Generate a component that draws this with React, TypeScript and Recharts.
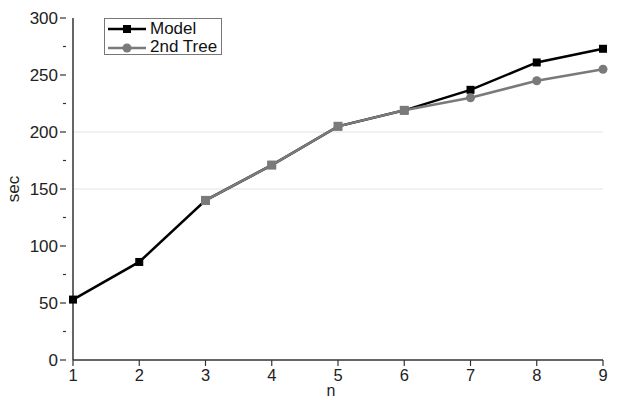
import {
  LineChart,
  Line,
  XAxis,
  YAxis,
  ReferenceLine,
  Label,
} from "recharts";

const nValues = [1, 2, 3, 4, 5, 6, 7, 8, 9];
const modelSec = [53, 86, 140, 171, 205, 219, 237, 261, 273];
const treeSec: (number | null)[] = [null, null, 140, 171, 205, 219, 230, 245, 255];
const yTicks = [0, 25, 50, 75, 100, 125, 150, 175, 200, 225, 250, 275, 300];
const gridLevels = [150, 200];

const data = nValues.map((n, i) => ({
  n,
  model: modelSec[i],
  tree: treeSec[i],
}));

const FONT = "'Liberation Sans', Arial, sans-serif";
const AXIS = "#333";

function YTick(props: any) {
  const { x, y, payload } = props;
  const major = payload.value % 50 === 0;
  return (
    <g>
      <line x1={x + 1} x2={x + 1 - (major ? 6 : 3)} y1={y} y2={y} stroke={AXIS} strokeWidth={1.2} />
      {major && (
        <text x={x - 7} y={y} dy={6} textAnchor="end" fill="#222" fontSize={17} fontFamily={FONT}>
          {payload.value}
        </text>
      )}
    </g>
  );
}

function XTick(props: any) {
  const { x, y, payload } = props;
  return (
    <text x={x} y={y} dy={13} textAnchor="middle" fill="#222" fontSize={16.5} fontFamily={FONT}>
      {payload.value}
    </text>
  );
}

function ModelDot(props: any) {
  const { cx, cy } = props;
  if (cx == null || cy == null) return null;
  return <rect x={cx - 4} y={cy - 4} width={8} height={8} fill="#000" />;
}

function TreeDot(props: any) {
  const { cx, cy, payload } = props;
  if (cx == null || cy == null || payload.tree == null) return null;
  if (payload.tree === payload.model) {
    return <rect x={cx - 4.5} y={cy - 4.5} width={9} height={9} fill="#7a7a7a" />;
  }
  return <circle cx={cx} cy={cy} r={4.5} fill="#7a7a7a" />;
}

export default function App() {
  return (
    <div style={{ position: "absolute", left: 0, top: 0, width: 619, height: 400, background: "#fff" }}>
      <LineChart
        width={619}
        height={400}
        data={data}
        margin={{ top: 18, right: 16, left: 0, bottom: 0 }}
      >
        {gridLevels.map((g) => (
          <ReferenceLine key={g} y={g} stroke="#e2e2e2" strokeWidth={1} />
        ))}
        <XAxis
          dataKey="n"
          type="number"
          domain={[1, 9]}
          ticks={nValues}
          height={40}
          axisLine={{ stroke: AXIS, strokeWidth: 1.5 }}
          tickLine={{ stroke: AXIS, strokeWidth: 1.2 }}
          tickSize={6}
          tick={<XTick />}
        >
          <Label value="n" position="insideBottom" offset={4} dx={-7} fill="#222" fontSize={16} fontFamily={FONT} />
        </XAxis>
        <YAxis
          type="number"
          domain={[0, 300]}
          ticks={yTicks}
          width={73}
          interval={0}
          axisLine={{ stroke: AXIS, strokeWidth: 1.5 }}
          tickLine={false}
          tick={<YTick />}
        >
          <Label
            value="sec"
            angle={-90}
            position="insideLeft"
            offset={13}
            style={{ textAnchor: "middle" }}
            fill="#222"
            fontSize={17}
            fontFamily={FONT}
          />
        </YAxis>
        <Line
          dataKey="model"
          stroke="#000"
          strokeWidth={2.5}
          dot={<ModelDot />}
          isAnimationActive={false}
        />
        <Line
          dataKey="tree"
          stroke="#7a7a7a"
          strokeWidth={2.5}
          dot={<TreeDot />}
          isAnimationActive={false}
        />
      </LineChart>
      <div
        style={{
          position: "absolute",
          left: 104,
          top: 18,
          width: 118,
          height: 37,
          border: "1px solid #777",
          boxSizing: "border-box",
          fontFamily: FONT,
          fontSize: 17,
          color: "#111",
        }}
      >
        <svg width={40} height={36} style={{ position: "absolute", left: 2, top: 0 }}>
          <line x1={1} x2={39} y1={10} y2={10} stroke="#000" strokeWidth={2.5} />
          <rect x={16} y={6} width={8} height={8} fill="#000" />
          <line x1={1} x2={39} y1={29} y2={29} stroke="#7a7a7a" strokeWidth={2.5} />
          <circle cx={20} cy={29} r={4.5} fill="#7a7a7a" />
        </svg>
        <div style={{ position: "absolute", left: 45, top: 0, lineHeight: "19px" }}>Model</div>
        <div style={{ position: "absolute", left: 45, top: 18, lineHeight: "19px" }}>2nd Tree</div>
      </div>
    </div>
  );
}
